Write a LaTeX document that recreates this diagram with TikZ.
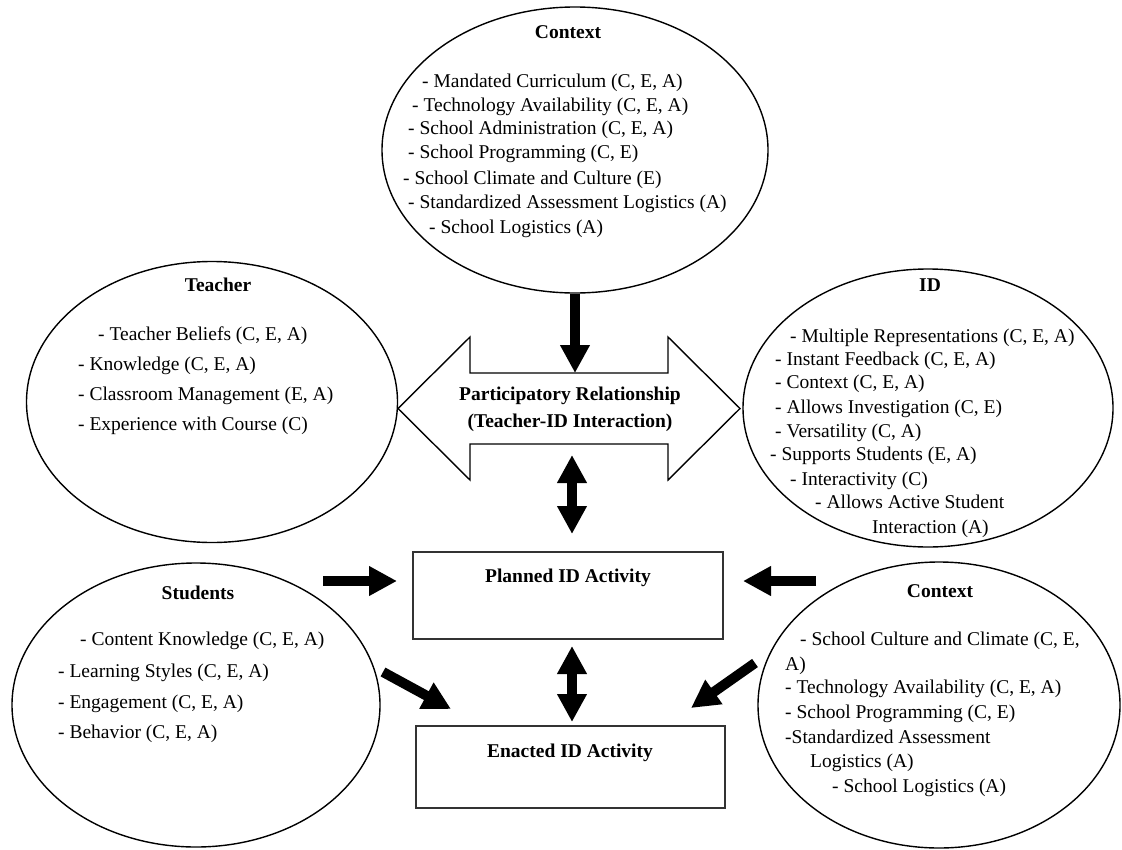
\documentclass[tikz,border=0pt]{standalone}
\usepackage{fontspec}
\setmainfont{Liberation Serif}
\usetikzlibrary{arrows.meta,shapes.geometric,calc}

\begin{document}
\begin{tikzpicture}[x=1pt,y=-1pt,
  oval/.style={draw, ellipse, line width=1.4pt, inner sep=0pt},
  itm/.style={anchor=base west, inner sep=0pt, font=\fontsize{19.5}{24}\selectfont},
  ttl/.style={anchor=base, inner sep=0pt, font=\fontsize{19.5}{24}\selectfont\bfseries},
  actbox/.style={draw=black!80, line width=2pt, inner sep=0pt},
  fat/.style={line width=10pt, -{Triangle[length=28pt,width=28pt]}},
  fatboth/.style={line width=10pt, {Triangle[length=28pt,width=28pt]}-{Triangle[length=28pt,width=28pt]}},
]
\useasboundingbox (0,0) rectangle (1122,849);

% ---- ellipses ----
\node[oval, minimum width=386pt, minimum height=286pt] (ctxTop) at (575,150) {};
\node[oval, minimum width=371pt, minimum height=281pt] (teacher) at (212,402) {};
\node[oval, minimum width=370pt, minimum height=278pt] (idOval) at (928,408) {};
\node[oval, minimum width=368pt, minimum height=284pt] (students) at (196,705) {};
\node[oval, minimum width=362pt, minimum height=286pt] (ctxBot) at (939,705) {};

% ---- participatory relationship block arrow ----
\draw[line width=1.4pt, fill=white] (398,408.5) -- (470,337) -- (470,373) -- (668,373)
  -- (668,337) -- (740,408.5) -- (668,480) -- (668,444) -- (470,444) -- (470,480) -- cycle;
\coordinate (relTop) at (575,373);
\coordinate (relBot) at (572,444);
\node[align=center, inner sep=0pt, font=\fontsize{19.5}{27}\selectfont\bfseries] (rel) at (570,409)
  {Participatory Relationship\\(Teacher-ID Interaction)};

% ---- activity boxes ----
\node[actbox, minimum width=310pt, minimum height=87pt] (planned) at (568,595.5) {};
\node[actbox, minimum width=309pt, minimum height=82pt] (enacted) at (570.5,767) {};
\node[ttl] (plannedLbl) at (568,582) {Planned ID Activity};
\node[ttl] (enactedLbl) at (570,757) {Enacted ID Activity};

% ---- connectors ----
\draw[fat] (ctxTop.south) -- (relTop);
\draw[fatboth, shorten <=11pt, shorten >=17pt] (relBot) -- (planned.north -| relBot);
\draw[fatboth, shorten <=6pt, shorten >=3pt] (planned.south -| relBot) -- (enacted.north -| relBot);
\coordinate (stA) at (323,581);
\coordinate (cbA) at (816,581);
\draw[fat, shorten >=15pt] (stA) -- (stA -| planned.west);
\draw[fat, shorten >=19pt] (cbA) -- (cbA -| planned.east);
\coordinate (stB) at (383,672);
\coordinate (cbB) at (755,663);
\draw[fat] (stB) -- ($(enacted.north west)+(36,-16)$);
\draw[fat] (cbB) -- ($(enacted.north east)+(-35,-17)$);

% ---- top context ----
\node[ttl] (ctxTopT) at (568,38) {Context};
\foreach \px/\py/\txt [count=\k] in {
  422/87/{- Mandated Curriculum (C, E, A)},
  412/111/{- Technology Availability (C, E, A)},
  408/134/{- School Administration (C, E, A)},
  408/158/{- School Programming (C, E)},
  403/184/{- School Climate and Culture (E)},
  408/208/{- Standardized Assessment Logistics (A)},
  429/233/{- School Logistics (A)}}
  \node[itm] (ctxTop-\k) at (\px,\py) {\txt};

% ---- teacher ----
\node[ttl] (teacherT) at (218,291) {Teacher};
\foreach \px/\py/\txt [count=\k] in {
  98/340/{- Teacher Beliefs (C, E, A)},
  78/370/{- Knowledge (C, E, A)},
  78/400/{- Classroom Management (E, A)},
  78/430/{- Experience with Course (C)}}
  \node[itm] (teacher-\k) at (\px,\py) {\txt};

% ---- ID ----
\node[ttl] (idT) at (930,291) {ID};
\foreach \px/\py/\txt [count=\k] in {
  790/342/{- Multiple Representations (C, E, A)},
  775/365/{- Instant Feedback (C, E, A)},
  775/388/{- Context (C, E, A)},
  775/413/{- Allows Investigation (C, E)},
  775/437/{- Versatility (C, A)},
  770/460/{- Supports Students (E, A)},
  790/485/{- Interactivity (C)},
  815/508/{- Allows Active Student},
  872/533/{Interaction (A)}}
  \node[itm] (id-\k) at (\px,\py) {\txt};

% ---- students ----
\node[ttl] (studentsT) at (198,599) {Students};
\foreach \px/\py/\txt [count=\k] in {
  80/645/{- Content Knowledge (C, E, A)},
  58/677/{- Learning Styles (C, E, A)},
  58/708/{- Engagement (C, E, A)},
  58/738/{- Behavior (C, E, A)}}
  \node[itm] (students-\k) at (\px,\py) {\txt};

% ---- lower context ----
\node[ttl] (ctxBotT) at (940,597) {Context};
\foreach \px/\py/\txt [count=\k] in {
  800/645/{- School Culture and Climate (C, E,},
  785/670/{A)},
  785/693/{- Technology Availability (C, E, A)},
  785/718/{- School Programming (C, E)},
  785/743/{-Standardized Assessment},
  810/767/{Logistics (A)},
  832/792/{- School Logistics (A)}}
  \node[itm] (ctxBot-\k) at (\px,\py) {\txt};

\end{tikzpicture}
\end{document}
